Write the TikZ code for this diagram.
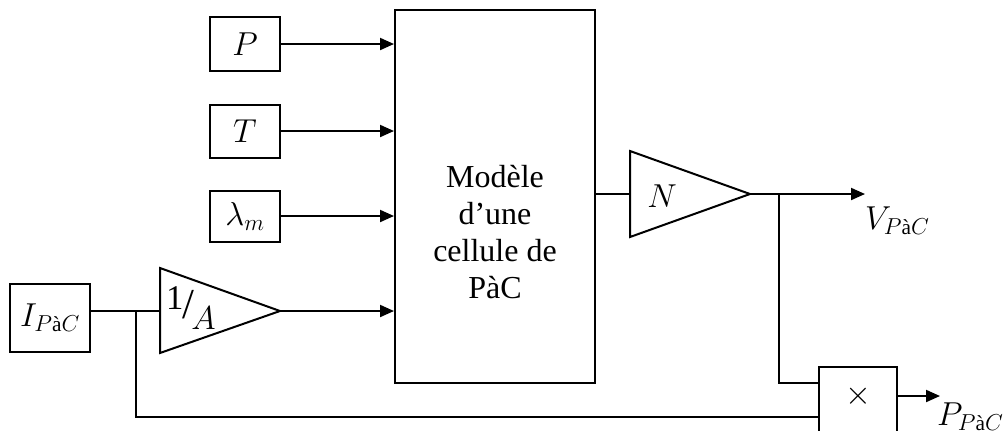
\documentclass[tikz,border=0pt]{standalone}
\usepackage{amsmath}
\usepackage{fontspec}
\setmainfont{Liberation Serif}
\usetikzlibrary{arrows.meta}
\newdimen\px \px=0.75pt
\newcommand\pacsub{\mbox{\fontsize{16}{16}\selectfont$P$à$C$}}
\begin{document}
\begin{tikzpicture}[x=0.75pt,y=-0.75pt, line width=1.5pt,
  blk/.style={draw, minimum width=70\px, minimum height=53\px, inner sep=0pt, font=\fontsize{24}{28}\selectfont},
  arr/.style={-{Triangle[length=10.5pt,width=9pt]}},
  lbl/.style={font=\fontsize{24}{28}\selectfont, inner sep=0pt}]
\useasboundingbox (0,0) rectangle (1005,430);
\clip (0,0) rectangle (1005,430);
% main model block
\node[draw, minimum width=200\px, minimum height=373\px, inner sep=0pt] (M) at (495,196) {};
\node[lbl, align=center, font=\fontsize{24}{27.75}\selectfont] (Mtxt) at (495,232) {Modèle\\d’une\\cellule de\\PàC};
% inputs
\node[blk, minimum height=54\px] (P) at (245,44) {$P$};
\node[blk] (T) at (245,131) {$T$};
\node[blk, minimum height=51\px] (L) at (245,216) {$\lambda_m$};
\node[blk, minimum width=80\px, minimum height=68\px] (I) at (50,318) {$I_{\pacsub}$};
\draw[arr] (P.east) -- (P.east -| M.west);
\draw[arr] (T.east) -- (T.east -| M.west);
\draw[arr] (L.east) -- (L.east -| M.west);
% 1/A gain
\coordinate (Ain) at (160,311);
\coordinate (Aout) at (280,311);
\draw (160,268) -- (Aout) -- (160,353) -- cycle;
\node[lbl, font=\fontsize{26}{28}\selectfont] (Atxt) at (191,308) {\raisebox{7pt}{1}\kern-1pt{\fontsize{32}{32}\selectfont/}\kern-2pt\raisebox{-8pt}{$A$}};
\coordinate (J) at (136,311);
\draw (I.east |- Ain) -- (Ain);
\draw[arr] (Aout) -- (Aout -| M.west);
% N gain
\coordinate (Nin) at (630,194);
\coordinate (Nout) at (750,194);
\draw (630,151) -- (Nout) -- (630,237) -- cycle;
\node[lbl] (Ntxt) at (662,196) {$N$};
\draw (Nin -| M.east) -- (Nin);
\coordinate (Vend) at (865,194);
\draw[arr] (Nout) -- (Vend);
\node[lbl, anchor=west] (Vl) at (864,221) {$V_{\pacsub}$};
% multiplier
\node[draw, minimum width=78\px, minimum height=66\px, inner sep=0pt] (X) at (858,400) {};
\node[lbl] (Xtxt) at (858,396) {$\times$};
\coordinate (B) at (779,194);
\coordinate (Xin1) at (819,383);
\coordinate (Xin2) at (819,417);
\coordinate (Xout) at (897,396);
\coordinate (Pend) at (940,396);
\draw (B) |- (Xin1);
\draw (J) |- (Xin2);
\draw[arr] (Xout) -- (Pend);
\node[lbl, anchor=west] (Pl) at (936,417) {$P_{\pacsub}$};
\end{tikzpicture}
\end{document}
